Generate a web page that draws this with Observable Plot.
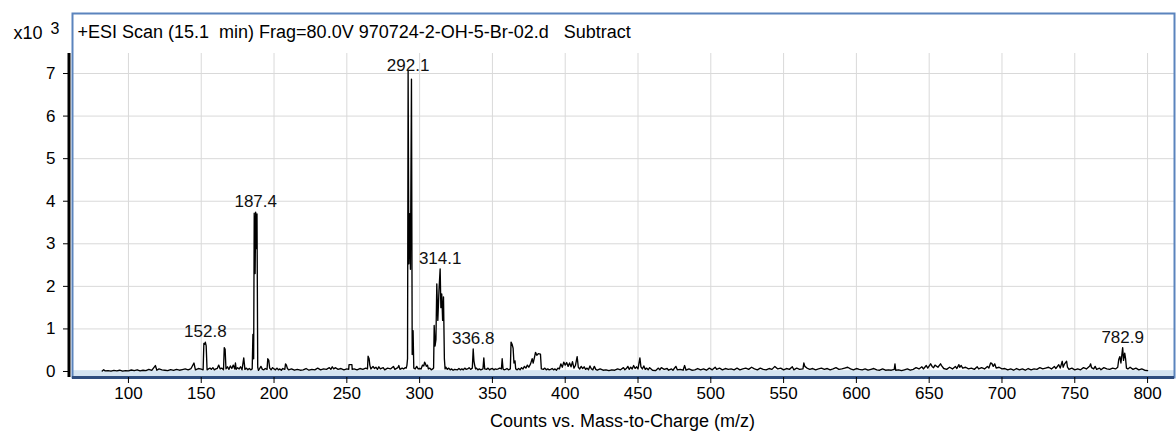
<!DOCTYPE html>
<html>
<head>
<meta charset="utf-8">
<script src="https://cdn.jsdelivr.net/npm/d3@7"></script>
<script src="https://cdn.jsdelivr.net/npm/@observablehq/plot@0.6"></script>
<style>
  html, body { margin: 0; padding: 0; background: #fff; }
  #chart svg { display: block; }
</style>
</head>
<body>
<div id="chart"></div>
<script>
// Scan header shown inside the plot frame
const scanTitle = "+ESI Scan (15.1  min) Frag=80.0V 970724-2-OH-5-Br-02.d   Subtract";
const xAxisTitle = "Counts vs. Mass-to-Charge (m/z)";

// Profile spectrum: m/z positions and ion counts (one value per position)
const mzValues = [
  82, 83, 84, 86, 88, 90, 92, 94, 96, 98,
  100, 102, 104, 106, 108, 110, 112, 114, 116, 118.5,
  119.5, 121, 123, 125, 127, 129, 131, 133, 135, 137,
  139, 141, 143, 145, 146, 148, 150, 151.3, 151.8, 152.3,
  152.8, 153.4, 154, 155, 156, 157, 158, 159, 160, 161,
  162, 163, 164, 165.3, 165.8, 166.4, 167, 168, 169, 170,
  171, 172, 173, 173.5, 174, 175, 176, 177, 178, 179.2,
  180, 181, 182, 183, 184, 185, 185.5, 186, 186.4, 187,
  187.4, 187.8, 188.3, 188.8, 189.3, 190, 191, 192, 193, 194,
  195.2, 195.7, 196.4, 197, 198, 199, 200, 201, 202, 203,
  204, 205, 206, 207.4, 207.9, 208.5, 209.2, 210, 212, 214,
  216, 218, 220, 222, 224, 226, 228, 230, 232, 234,
  236, 238, 239, 240, 241, 242, 244, 246, 248, 250,
  251.3, 251.5, 253.5, 253.7, 255, 257, 259, 261, 263, 264.2,
  264.6, 265.3, 265.8, 266.5, 268, 269, 270, 271, 272, 273,
  275, 276, 278, 280, 282, 283, 285, 285.7, 286.5, 288,
  289, 290.2, 290.8, 291.3, 291.7, 292.1, 292.6, 293.2, 293.7, 294.4,
  294.9, 295.5, 296, 297, 298, 299, 300, 301, 302, 302.9,
  303.4, 304, 304.6, 305.4, 306, 307, 308, 309, 309.6, 310,
  310.6, 311.2, 311.8, 312.5, 313.3, 314.1, 314.6, 315.2, 315.8, 316.4,
  317, 317.5, 318, 319, 320, 321, 322, 323, 324, 326,
  327, 328, 329, 330, 331, 332, 333, 334, 335, 336.2,
  336.8, 337.3, 337.8, 338.4, 339, 340, 341, 342, 343.5, 344.1,
  344.7, 346, 347, 348, 349, 350, 351, 352, 353, 354,
  355, 356.2, 356.7, 357.3, 358, 359, 360, 361, 362.3, 362.8,
  363.5, 364.2, 364.8, 365.5, 366, 367, 368, 369, 370, 371,
  372, 373, 374, 375, 376.2, 377.3, 378, 379, 379.6, 380.5,
  381.5, 383, 383.6, 385, 386, 387, 388, 389, 390, 391,
  392, 393, 394, 395, 396, 397, 398, 399, 400, 401,
  402, 403, 404, 405, 406, 407, 408.2, 409, 410, 411,
  412, 413, 414, 415, 416, 417, 418, 419, 420, 421,
  422, 424, 426, 428, 430, 432, 434, 436, 438, 440,
  441, 442, 443, 444, 445, 446, 447, 448, 449, 450,
  451.3, 452, 453, 454, 455, 456, 457, 458, 460, 462,
  464, 465, 466, 468, 470, 471, 473, 474, 476, 477,
  479, 481, 482, 483, 485, 487, 489, 491, 493, 495,
  497, 499, 501, 503, 504, 506, 508, 510, 512, 514,
  516, 518, 520, 522, 524, 526, 528, 530, 532, 534,
  536, 538, 540, 542, 544, 546, 548, 550, 552, 554,
  556, 557, 559, 561, 563.3, 563.9, 564.6, 566, 568, 570,
  572, 574, 576, 578, 580, 582, 584, 586, 588, 590,
  592, 594, 596, 598, 600, 602, 604, 606, 608, 610,
  612, 614, 616, 618, 620, 622, 624, 626, 626.5, 627,
  629, 631, 633, 635, 637, 639, 641, 643, 645, 646,
  648, 649, 651, 652, 653, 654, 656, 657.8, 658.5, 660,
  662, 664, 666, 668, 669, 670.4, 671, 672, 673, 675,
  677, 679, 681, 683, 684, 686, 688, 690, 691, 692.2,
  693, 694, 695, 696, 698, 700, 702, 704, 706, 708,
  710, 712, 714, 716, 718, 720, 722, 724, 726, 728,
  730, 732, 734, 736, 737, 739, 740, 741.4, 742, 743,
  744.4, 745, 746, 748, 750, 752, 754, 756, 758, 760.3,
  760.9, 761.5, 763, 764, 765, 767, 768, 770, 772, 774,
  776, 778, 779.5, 780.2, 781, 781.7, 782.3, 782.9, 783.5, 784.3,
  784.9, 785.5, 786.5, 788, 790, 792, 794, 796, 798, 800
];
const countValues = [
  10, 40, 15, 20, 10, 25, 15, 30, 10, 20,
  15, 35, 20, 40, 15, 30, 20, 50, 25, 140,
  30, 60, 40, 30, 20, 45, 25, 50, 30, 45,
  60, 40, 70, 200, 40, 70, 55, 40, 660, 640,
  690, 600, 40, 60, 80, 50, 90, 40, 60, 70,
  150, 60, 80, 40, 560, 520, 60, 110, 50, 130,
  70, 150, 60, 200, 50, 90, 60, 110, 40, 320,
  50, 80, 40, 70, 40, 60, 870, 300, 3720, 2300,
  3740, 2890, 3700, 100, 30, 60, 120, 50, 40, 70,
  50, 300, 260, 80, 40, 90, 60, 40, 80, 40,
  60, 30, 70, 50, 180, 150, 70, 40, 60, 30,
  50, 30, 40, 70, 30, 50, 40, 80, 40, 60,
  50, 90, 50, 110, 60, 90, 50, 70, 40, 60,
  50, 160, 160, 50, 60, 40, 70, 50, 80, 60,
  360, 300, 150, 60, 120, 70, 100, 50, 110, 60,
  90, 40, 80, 60, 120, 50, 90, 140, 50, 80,
  60, 90, 80, 150, 300, 7070, 2530, 3710, 2400, 6870,
  400, 960, 80, 60, 120, 60, 70, 60, 150, 130,
  220, 180, 120, 150, 60, 80, 40, 60, 80, 1080,
  600, 750, 2060, 1200, 1900, 2410, 1500, 1820, 1200, 1750,
  300, 60, 100, 50, 80, 40, 60, 30, 50, 40,
  70, 40, 60, 40, 80, 50, 60, 90, 50, 80,
  530, 250, 150, 60, 80, 40, 60, 40, 60, 320,
  60, 50, 80, 40, 60, 70, 40, 60, 50, 60,
  80, 60, 300, 60, 40, 50, 70, 40, 60, 690,
  640, 550, 200, 250, 60, 40, 70, 40, 90, 60,
  120, 80, 150, 100, 180, 300, 200, 350, 450, 380,
  420, 410, 60, 50, 80, 40, 60, 40, 50, 70,
  40, 60, 30, 80, 60, 180, 100, 220, 150, 210,
  120, 200, 110, 230, 80, 140, 350, 100, 60, 120,
  70, 110, 50, 80, 40, 130, 60, 40, 120, 50,
  30, 60, 30, 40, 20, 40, 30, 60, 40, 90,
  40, 70, 120, 50, 100, 60, 140, 70, 110, 60,
  320, 110, 60, 130, 50, 80, 40, 90, 30, 20,
  80, 40, 90, 50, 70, 30, 60, 30, 120, 40,
  50, 30, 140, 30, 60, 30, 40, 70, 40, 60,
  30, 80, 40, 100, 50, 80, 40, 70, 50, 60,
  40, 80, 40, 60, 80, 50, 100, 60, 40, 80,
  50, 40, 70, 50, 120, 60, 80, 40, 70, 50,
  110, 40, 80, 50, 60, 200, 120, 80, 50, 70,
  40, 60, 80, 50, 70, 40, 60, 90, 50, 60,
  80, 100, 60, 40, 70, 50, 40, 60, 30, 50,
  70, 40, 30, 60, 30, 40, 30, 50, 180, 30,
  40, 20, 40, 60, 30, 50, 90, 60, 110, 60,
  140, 80, 180, 120, 90, 150, 100, 180, 140, 70,
  50, 100, 60, 120, 70, 160, 100, 140, 80, 100,
  60, 80, 50, 110, 60, 90, 60, 120, 80, 200,
  190, 120, 180, 80, 100, 60, 70, 40, 60, 30,
  70, 40, 60, 30, 70, 40, 60, 50, 90, 60,
  80, 100, 60, 120, 70, 160, 80, 240, 100, 180,
  240, 100, 50, 80, 40, 60, 40, 90, 60, 130,
  180, 90, 60, 120, 50, 80, 40, 90, 60, 50,
  80, 60, 100, 280, 350, 200, 380, 560, 260, 430,
  300, 80, 60, 100, 50, 80, 40, 60, 30, 20
];

// Annotated peaks (m/z)
const labeledPeaks = [152.8, 187.4, 292.1, 314.1, 336.8, 782.9];

// Axis ticks
const xTicks = [100, 150, 200, 250, 300, 350, 400, 450, 500, 550, 600, 650, 700, 750, 800];
const yTicks = [0, 1, 2, 3, 4, 5, 6, 7];

// Visible ranges: m/z window, intensity window (x10^3), grid top
const mzDomain = [60.2, 818.5];
const kDomain = [-0.141, 8.41];
const gridTop = 7.47;
const labelCeiling = 6.95;

const spectrum = mzValues.map((m, i) => ({mz: m, k: countValues[i] / 1000}));
const peaks = labeledPeaks.map(m => ({mz: m, k: countValues[mzValues.indexOf(m)] / 1000}));

const font = "'Liberation Sans', Arial, sans-serif";

const chart = Plot.plot({
  width: 1176,
  height: 438,
  marginLeft: 70,
  marginRight: 2,
  marginTop: 13,
  marginBottom: 61,
  x: {domain: mzDomain},
  y: {domain: kDomain},
  style: {fontFamily: font, fontSize: "17px", color: "#000", background: "#fff", overflow: "visible"},
  marks: [
    // light grid
    Plot.ruleY(yTicks.slice(1), {stroke: "#d9d9d9", strokeWidth: 1, insetLeft: 2}),
    Plot.ruleX(xTicks, {y1: 0, y2: gridTop, stroke: "#d9d9d9", strokeWidth: 1}),
    // pale band beneath the baseline
    Plot.rect([mzDomain], {x1: d => d[0], x2: d => d[1], y1: kDomain[0], y2: 0.02, fill: "#d5e4f1", insetLeft: 2}),
    // profile trace
    Plot.line(spectrum, {x: "mz", y: "k", stroke: "#000", strokeWidth: 1.35}),
    // peak annotations
    Plot.text(peaks, {
      x: "mz",
      y: d => Math.min(d.k, labelCeiling),
      text: d => d.mz.toFixed(1),
      dy: -5,
      lineAnchor: "bottom",
      fontSize: 17,
      fill: "#111"
    }),
    // plot frame
    Plot.frame({stroke: "#5b84bd", strokeWidth: 2, insetLeft: 2}),
    Plot.ruleY([kDomain[0]], {stroke: "#2f4d7e", strokeWidth: 3, insetLeft: 2}),
    Plot.ruleX([mzDomain[0]], {y1: kDomain[0], y2: gridTop, stroke: "#000", strokeWidth: 3, dx: -1.5}),
    // axes
    Plot.axisX(xTicks, {tickSize: 6, tickPadding: 3, label: null, fontSize: 17}),
    Plot.axisY(yTicks, {tickSize: 7, tickPadding: 8, label: null, fontSize: 17}),
    // header and titles
    Plot.text([scanTitle], {text: d => d, frameAnchor: "top-left", dx: 7, dy: 19, lineAnchor: "middle", textAnchor: "start", fontSize: 18}),
    Plot.text(["x10"], {text: d => d, frameAnchor: "top-left", dx: -57, dy: 20, lineAnchor: "middle", textAnchor: "start", fontSize: 18}),
    Plot.text(["3"], {text: d => d, frameAnchor: "top-left", dx: -20, dy: 15, lineAnchor: "middle", textAnchor: "start", fontSize: 16}),
    Plot.text([xAxisTitle], {text: d => d, frameAnchor: "bottom", dy: 44, lineAnchor: "middle", fontSize: 18})
  ]
});

document.getElementById("chart").append(chart);
</script>
</body>
</html>
